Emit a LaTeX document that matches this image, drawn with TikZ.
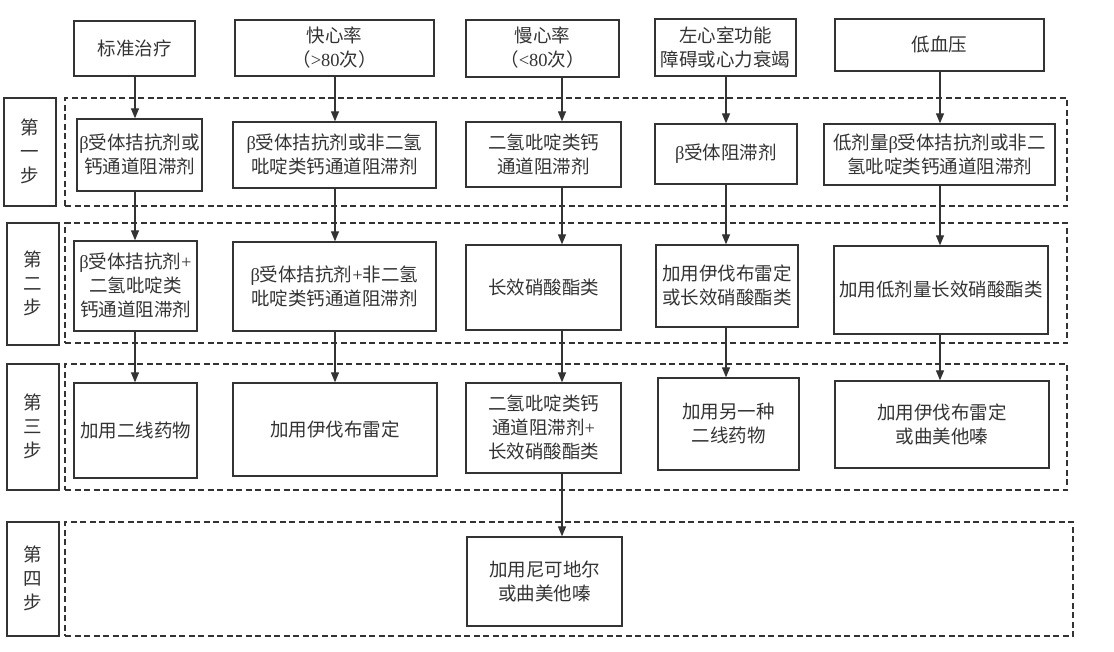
\documentclass[tikz,border=0pt]{standalone}
\usepackage{fontspec}
\setmainfont{Liberation Serif}
\newfontfamily\cjk{Noto Sans CJK SC}
\newfontfamily\latf{Liberation Serif}
\usetikzlibrary{arrows.meta,fit}
\definecolor{ink}{HTML}{333333}
\newcommand\bb{{\latf β}}
\newcommand\mkbox[6]{\node[bx, fit={(#2,#3) (#4,#5)}] (#1) {};
  \node[txt] (#1t) at ([yshift=0.5pt]#1.center) {#6};}
\newcommand\mkdash[5]{\node[dbx, fit={(#2,#3) (#4,#5)}] (#1) {};}
\begin{document}
\begin{tikzpicture}[x=1pt,y=-1pt,
  bx/.style={draw=ink, line width=1.3pt, inner sep=0pt},
  txt/.style={inner sep=0pt, align=center, text=ink,
    font=\cjk\fontsize{18.5}{24}\selectfont},
  dbx/.style={draw=ink, line width=1.2pt, inner sep=0pt, dash pattern=on 6pt off 3.5pt},
  arr/.style={draw=ink, line width=1.2pt, -{Triangle[length=10pt,width=8pt]}}]
\useasboundingbox (0,0) rectangle (1114,651);
% dashed step frames
\mkdash{D1}{65}{98}{1067}{206}
\mkdash{D2}{65}{223}{1067}{343}
\mkdash{D3}{65}{364}{1067}{490}
\mkdash{D4}{65}{522}{1073}{636}
% step labels
\mkbox{S1}{4}{98}{56}{206}{第\\一\\步}
\mkbox{S2}{7}{223}{59}{345}{第\\二\\步}
\mkbox{S3}{7}{364}{59}{490}{第\\三\\步}
\mkbox{S4}{7}{522}{59}{636}{第\\四\\步}
% top
\mkbox{T1}{74}{21}{195}{76}{标准治疗}
\mkbox{T2}{235}{20}{434}{76}{快心率\\（{\latf >80}次）}
\mkbox{T3}{466}{20}{619}{77}{慢心率\\（{\latf <80}次）}
\mkbox{T4}{655}{19}{796}{76}{左心室功能\\障碍或心力衰竭}
\mkbox{T5}{835}{19}{1044}{71}{低血压}
% row 1
\mkbox{A1}{77}{119}{202}{191}{\bb 受体拮抗剂或\\钙通道阻滞剂}
\mkbox{A2}{233}{122}{436}{188}{\bb 受体拮抗剂或非二氢\\吡啶类钙通道阻滞剂}
\mkbox{A3}{466}{122}{621}{187}{二氢吡啶类钙\\通道阻滞剂}
\mkbox{A4}{655}{124}{797}{184}{\bb 受体阻滞剂}
\mkbox{A5}{824}{124}{1055}{185}{低剂量\bb 受体拮抗剂或非二\\氢吡啶类钙通道阻滞剂}
% row 2
\mkbox{B1}{74}{241}{197}{331}{\bb 受体拮抗剂{\latf +}\\二氢吡啶类\\钙通道阻滞剂}
\mkbox{B2}{233}{242}{436}{331}{\bb 受体拮抗剂{\latf +}非二氢\\吡啶类钙通道阻滞剂}
\mkbox{B3}{466}{245}{621}{330}{长效硝酸酯类}
\mkbox{B4}{656}{245}{798}{327}{加用伊伐布雷定\\或长效硝酸酯类}
\mkbox{B5}{834}{246}{1048}{334}{加用低剂量长效硝酸酯类}
% row 3
\mkbox{C1}{74}{383}{197}{478}{加用二线药物}
\mkbox{C2}{233}{383}{437}{476}{加用伊伐布雷定}
\mkbox{C3}{466}{383}{621}{473}{二氢吡啶类钙\\通道阻滞剂{\latf +}\\长效硝酸酯类}
\mkbox{C4}{658}{378}{799}{470}{加用另一种\\二线药物}
\mkbox{C5}{835}{381}{1049}{468}{加用伊伐布雷定\\或曲美他嗪}
% row 4
\mkbox{E3}{467}{537}{622}{626}{加用尼可地尔\\或曲美他嗪}
% column axes
\coordinate (x1) at (135,0);
\coordinate (x2) at (335,0);
\coordinate (x3) at (562,0);
\coordinate (x4) at (726,0);
\coordinate (x5) at (940,0);
\foreach \c/\t/\a/\b/\d in {1/T1/A1/B1/C1, 2/T2/A2/B2/C2, 3/T3/A3/B3/C3, 4/T4/A4/B4/C4, 5/T5/A5/B5/C5}{
  \draw[arr] (\t.south -| x\c) -- (\a.north -| x\c);
  \draw[arr] (\a.south -| x\c) -- (\b.north -| x\c);
  \draw[arr] (\b.south -| x\c) -- (\d.north -| x\c);
}
\draw[arr] (C3.south -| x3) -- (E3.north -| x3);
\end{tikzpicture}
\end{document}
